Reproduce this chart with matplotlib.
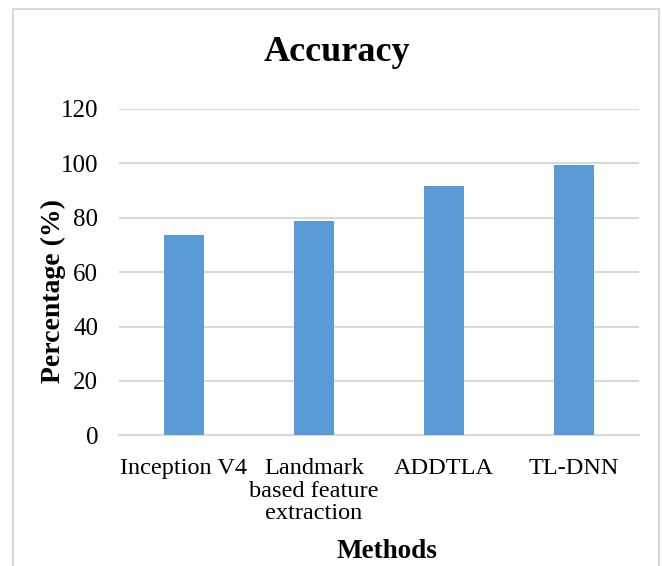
import matplotlib
matplotlib.use("Agg")
import matplotlib.pyplot as plt
from matplotlib.patches import Rectangle

# chart data
methods = ["Inception V4", "Landmark\nbased feature\nextraction", "ADDTLA", "TL-DNN"]
accuracy = [73.5, 78.9, 91.7, 99.3]
yticks = [0, 20, 40, 60, 80, 100, 120]

plt.rcParams['font.family'] = ['Liberation Serif', 'DejaVu Serif']

W, H = 662, 566
fig = plt.figure(figsize=(W / 100, H / 100), dpi=100)
ax = fig.add_axes([119 / W, 1 - 435.3 / H, (639 - 119) / W, (435.3 - 108.9) / H])

x = list(range(len(methods)))
ax.bar(x, accuracy, width=0.315, color="#5B9BD5", zorder=3)

ax.set_xlim(-0.5, len(methods) - 0.5)
ax.set_ylim(0, 120)
ax.set_yticks(yticks)
ax.set_yticklabels([str(v) for v in yticks], fontsize=18)
ax.set_xticks(x)
ax.set_xticklabels(methods, linespacing=1.09, fontsize=17.5)

ax.grid(axis="y", color="#d9d9d9", linewidth=1.5, zorder=0)
for side in ["top", "right", "left"]:
    ax.spines[side].set_visible(False)
ax.spines["bottom"].set_color("#d9d9d9")
ax.spines["bottom"].set_linewidth(1.5)
ax.tick_params(axis="both", length=0, colors="black")
ax.tick_params(axis="y", pad=15)
ax.tick_params(axis="x", pad=16.5)

# title and axis labels
fig.text(336.5 / W, 1 - 60.7 / H, "Accuracy", ha="center", va="baseline",
         fontsize=26, fontweight="bold")
fig.text(53 / W, 1 - 291 / H, "Percentage (%)", ha="center", va="center",
         rotation=90, fontsize=20, fontweight="bold")
fig.text(386.5 / W, 1 - 552 / H, "Methods", ha="center", va="center",
         fontsize=19.5, fontweight="bold")

# chart-area border
fig.patches.append(Rectangle((12.7 / W, -0.1), (659 - 12.7) / W, 1.1 - 9 / H,
                             transform=fig.transFigure, fill=False,
                             edgecolor="#d9d9d9", linewidth=1.5))

fig.savefig("out.png", dpi=100)
